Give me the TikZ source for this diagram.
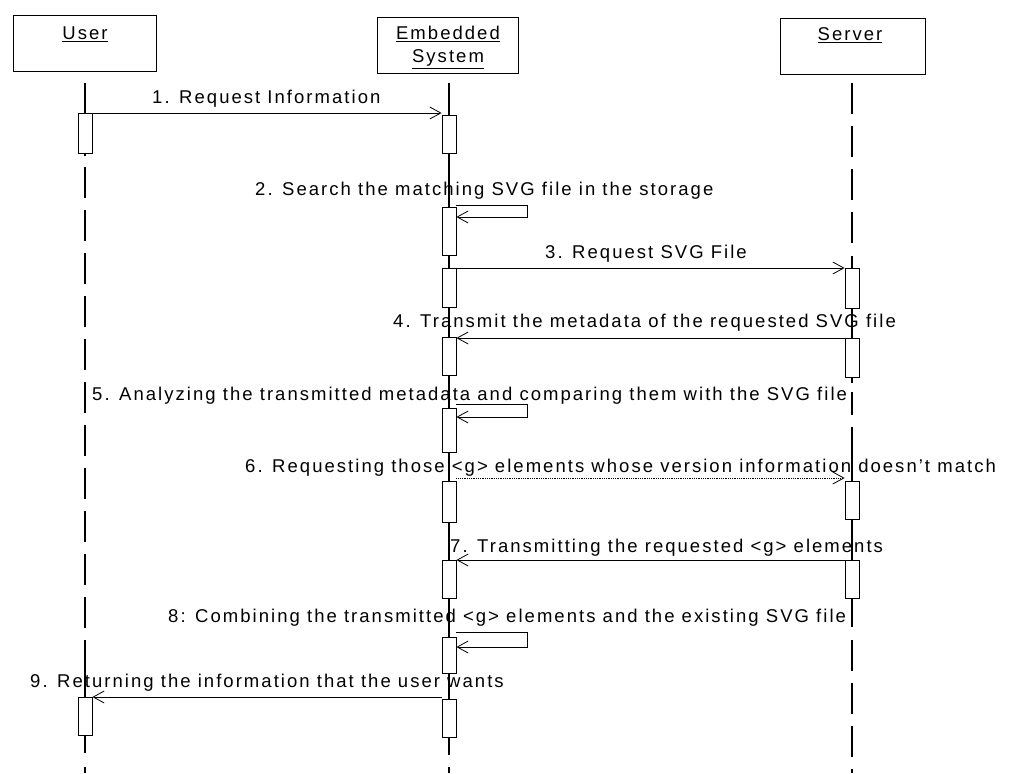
\documentclass[tikz,border=0pt]{standalone}
\usepackage{fontspec}
\setmainfont{Liberation Sans}[LetterSpace=11.0]
\usetikzlibrary{arrows.meta,calc}
\begin{document}
\begin{tikzpicture}[x=1pt,y=-1pt,
  every node/.style={font=\fontsize{18.5}{22}\selectfont, inner sep=0pt},
  head/.style={draw, line width=0.9pt, rectangle, minimum width=143, minimum height=56},
  act/.style={draw, line width=0.8pt, fill=white, rectangle, minimum width=14, anchor=north},
  life/.style={line width=1.5pt},
  lifedash/.style={line width=1.5pt, dash pattern=on 31pt off 12pt},
  msg/.style={line width=0.8pt, -{Straight Barb[length=11pt,width=12pt]}},
  lbl/.style={anchor=base west},
  ttl/.style={anchor=base}]
\useasboundingbox (0,0) rectangle (1016,773);
% headers
\node[head] (user) at (84.5,43) {};
\node[head, minimum width=141] (emb) at (447.5,45) {};
\node[head, minimum width=145] (srv) at (852.5,46) {};
\node[ttl] (userT) at (85,40) {\underline{User}};
\node[ttl] (embT1) at (448,40) {\underline{Embedded}};
\node[ttl] (embT2) at (448,63) {\underline{System}};
\node[ttl] (srvT) at (850,41) {\underline{Server}};
% lifelines (behind)
\coordinate (uL) at (85,83);
\coordinate (eL) at (449,83);
\coordinate (sL) at (852,83);
% user
\draw[life] (uL) -- (85,113);
\draw[life] (85,153) -- (85,156);
\draw[lifedash] (85,167) -- (85,640);
\draw[life] (85,640) -- (85,697);
\draw[life] (85,735) -- (85,753);
\draw[life] (85,767) -- (85,773);
% embedded
\draw[life] (eL) -- (449,755);
\draw[life] (449,767) -- (449,773);
% server
\draw[lifedash] (sL) -- (852,244);
\draw[life] (852,256) -- (852,383);
\draw[life] (852,392) -- (852,415);
\draw[life] (852,427) -- (852,627);
\draw[lifedash] (852,640) -- (852,773);
% activations
\node[act, minimum height=40] (u1) at (85,113) {};
\node[act, minimum height=38] (u9) at (85,697) {};
\node[act, minimum height=38] (e1) at (449,115) {};
\node[act, minimum height=48] (e2) at (449,207) {};
\node[act, minimum height=39] (e3) at (449,268) {};
\node[act, minimum height=38] (e4) at (449,337) {};
\node[act, minimum height=44] (e5) at (449,408) {};
\node[act, minimum height=41] (e6) at (449,481) {};
\node[act, minimum height=38] (e7) at (449,560) {};
\node[act, minimum height=36] (e8) at (449,637) {};
\node[act, minimum height=38] (e9) at (449,699) {};
\node[act, minimum height=40] (s3) at (852,268) {};
\node[act, minimum height=39] (s4) at (852,338) {};
\node[act, minimum height=38] (s6) at (852,481) {};
\node[act, minimum height=38] (s7) at (852,560) {};
% messages
\draw[msg] (u1.north east) -- (u1.north east -| e1.west);
\coordinate (l2) at (527,205);
\draw[msg] (e2.east |- l2) -- (l2) -- (527,217) -- (e2.east |- 0,217);
\draw[msg] (e3.north east) -- (e3.north east -| s3.west);
\draw[msg] (s4.north west) -- (s4.north west -| e4.east);
\coordinate (l5) at (527,404);
\draw[msg] (e5.east |- l5) -- (l5) -- (527,417) -- (e5.east |- 0,417);
\draw[msg, densely dotted] (e6.east |- 0,478) -- (s6.west |- 0,478);
\draw[msg] (s7.north west) -- (s7.north west -| e7.east);
\coordinate (l8) at (527,632);
\draw[msg] (e8.east |- l8) -- (l8) -- (527,647) -- (e8.east |- 0,647);
\draw[msg] (e9.west |- 0,697) -- (u9.north east);
% labels
\node[lbl] (t1) at (152,103) {1. Request Information};
\node[lbl] (t2) at (255,195) {2. Search the matching SVG file in the storage};
\node[lbl] (t3) at (545,258) {3. Request SVG File};
\node[lbl] (t4) at (393,327) {4. Transmit the metadata of the requested SVG file};
\node[lbl] (t5) at (92,400) {5. Analyzing the transmitted metadata and comparing them with the SVG file};
\node[lbl] (t6) at (245,472) {6. Requesting those <g> elements whose version information doesn't match};
\node[lbl] (t7) at (450,552) {7. Transmitting the requested <g> elements};
\node[lbl] (t8) at (168,622) {8: Combining the transmitted <g> elements and the existing SVG file};
\node[lbl] (t9) at (30,687) {9. Returning the information that the user wants};
\end{tikzpicture}
\end{document}
